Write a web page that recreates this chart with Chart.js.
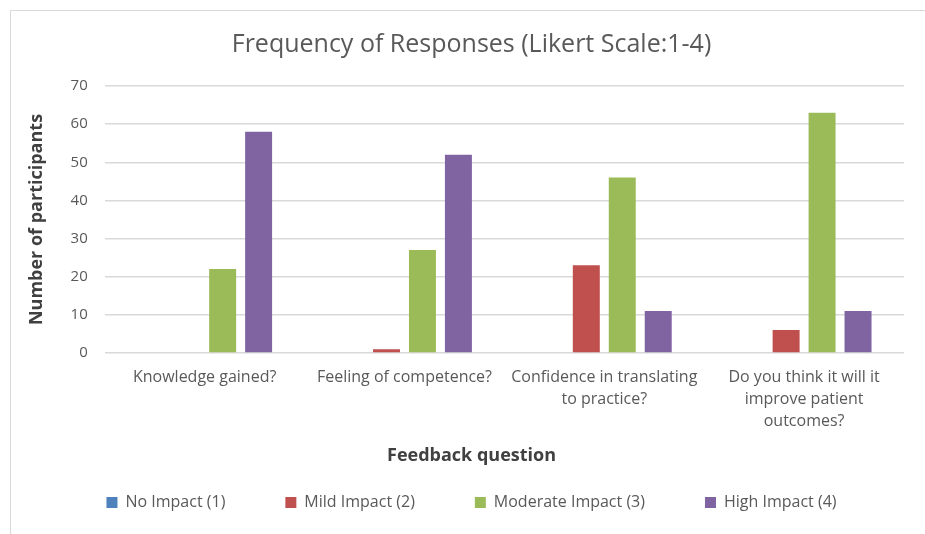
<!DOCTYPE html>
<html>
<head>
<meta charset="utf-8">
<script src="https://cdn.jsdelivr.net/npm/chart.js@4"></script>
<style>
  html, body { margin: 0; padding: 0; background: #fff; }
  #wrap { position: absolute; left: 10px; top: 10px; width: 915px; height: 524px;
          border-left: 1px solid #d9d9d9; border-top: 1px solid #d9d9d9; box-sizing: border-box; }
  canvas { display: block; }
</style>
</head>
<body>
<div id="wrap"><canvas id="chart"></canvas></div>
<script>
const questions = [
  'Knowledge gained?',
  'Feeling of competence?',
  ['Confidence in translating', 'to practice?'],
  ['Do you think it will it', 'improve patient', 'outcomes?']
];
const noImpact = [0, 0, 0, 0];
const mildImpact = [0, 1, 23, 6];
const moderateImpact = [22, 27, 46, 63];
const highImpact = [58, 52, 11, 11];
const yTicks = [0, 10, 20, 30, 40, 50, 60, 70];

const font = "'Open Sans', 'Liberation Sans', sans-serif";
const grey = '#595959';
const dark = '#404040';

const ctx = document.getElementById('chart').getContext('2d');
new Chart(ctx, {
  type: 'bar',
  data: {
    labels: questions,
    datasets: [
      { label: 'No Impact (1)', data: noImpact, backgroundColor: '#4F81BD' },
      { label: 'Mild Impact (2)', data: mildImpact, backgroundColor: '#C0504D' },
      { label: 'Moderate Impact (3)', data: moderateImpact, backgroundColor: '#9BBB59' },
      { label: 'High Impact (4)', data: highImpact, backgroundColor: '#8064A2' }
    ]
  },
  options: {
    responsive: true,
    maintainAspectRatio: false,
    animation: false,
    layout: { padding: { top: 12, right: 21, left: 28, bottom: 3 } },
    datasets: { bar: { categoryPercentage: 0.72, barPercentage: 0.75 } },
    plugins: {
      title: {
        display: true,
        text: 'Frequency of Responses (Likert Scale:1-4)',
        color: grey,
        font: { family: font, size: 25, weight: 'normal' },
        padding: { top: 7, bottom: 26 }
      },
      // x axis title, placed between the axis and the legend
      subtitle: {
        display: true,
        position: 'bottom',
        weight: 500,
        text: 'Feedback question',
        color: dark,
        font: { family: font, size: 18, weight: 'bold' },
        padding: { top: 0, bottom: -32 }
      },
      legend: {
        position: 'bottom',
        labels: {
          color: grey,
          font: { family: font, size: 16 },
          boxWidth: 11,
          boxHeight: 11,
          padding: 60
        }
      },
      tooltip: { enabled: false }
    },
    scales: {
      x: {
        grid: { display: false, drawTicks: false },
        border: { display: false },
        ticks: { color: grey, font: { family: font, size: 16, lineHeight: 1.375 }, maxRotation: 0, autoSkip: false, padding: 13 }
      },
      y: {
        min: 0,
        max: 70,
        afterBuildTicks: axis => { axis.ticks = yTicks.map(v => ({ value: v })); },
        grid: { color: '#d9d9d9', lineWidth: 1.5, drawTicks: false },
        border: { display: false },
        ticks: { color: grey, font: { family: font, size: 15 }, padding: 17 },
        title: {
          display: true,
          text: 'Number of participants',
          color: dark,
          font: { family: font, size: 18, weight: 'bold' },
          padding: { top: -13, bottom: 6 }
        }
      }
    }
  }
});
</script>
</body>
</html>
